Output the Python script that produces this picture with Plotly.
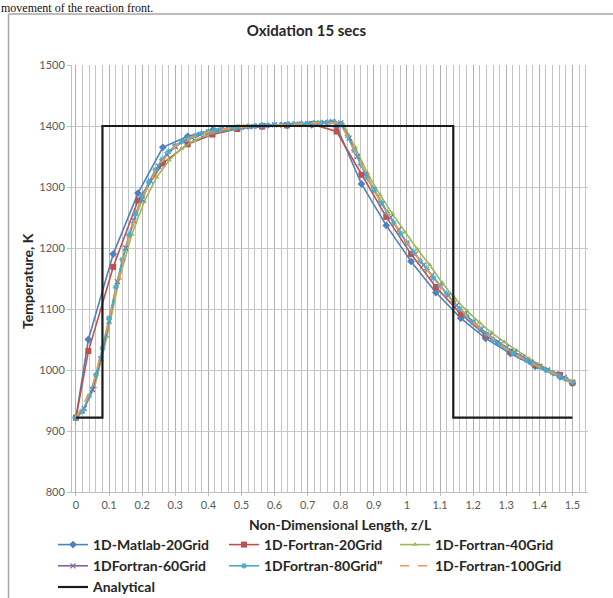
import plotly.graph_objects as go

# ---------------- data ----------------
x_grid20 = [0, 0.0375, 0.1125, 0.1875, 0.2625, 0.3375, 0.4125, 0.4875, 0.5625, 0.6375, 0.7125,
            0.7875, 0.8625, 0.9375, 1.0125, 1.0875, 1.1625, 1.2375, 1.3125, 1.3875, 1.4625, 1.5]
t_matlab20 = [922, 1050, 1190, 1290, 1365, 1383, 1393, 1397, 1400, 1401, 1402,
              1399, 1305, 1237, 1178, 1127, 1085, 1052, 1027, 1006, 989, 978]
t_fortran20 = [922, 1031, 1169, 1278, 1339, 1370, 1386, 1395, 1399, 1401, 1403,
               1391, 1320, 1251, 1190, 1136, 1092, 1057, 1030, 1008, 992, 979]

x_grid40 = [0, 0.01875, 0.05625, 0.09375, 0.13125, 0.16875, 0.20625, 0.24375, 0.28125, 0.31875,
            0.35625, 0.39375, 0.43125, 0.46875, 0.50625, 0.54375, 0.58125, 0.61875, 0.65625,
            0.69375, 0.73125, 0.76875, 0.80625, 0.84375, 0.88125, 0.91875, 0.95625, 0.99375,
            1.03125, 1.06875, 1.10625, 1.14375, 1.18125, 1.21875, 1.25625, 1.29375, 1.33125,
            1.36875, 1.40625, 1.44375, 1.48125, 1.5]
t_fortran40 = [922, 930, 972, 1055, 1150, 1222, 1276, 1316, 1344, 1363,
               1376, 1385, 1391, 1395, 1398, 1400, 1401, 1402, 1403,
               1404, 1405, 1407, 1404, 1365, 1322, 1287, 1256, 1226,
               1198, 1172, 1143, 1118, 1097, 1078, 1061, 1046, 1032,
               1019, 1007, 996, 986, 981]

x_grid60 = [0, 0.025, 0.05, 0.075, 0.1, 0.125, 0.15, 0.175, 0.2, 0.225, 0.25, 0.275, 0.3, 0.325,
            0.35, 0.375, 0.4, 0.425, 0.45, 0.475, 0.5, 0.525, 0.55, 0.575, 0.6, 0.625, 0.65,
            0.675, 0.7, 0.725, 0.75, 0.775, 0.8, 0.825, 0.85, 0.875, 0.9, 0.925, 0.95, 0.975,
            1.0, 1.025, 1.05, 1.075, 1.1, 1.125, 1.15, 1.175, 1.2, 1.225, 1.25, 1.275, 1.3,
            1.325, 1.35, 1.375, 1.4, 1.425, 1.45, 1.475, 1.5]
t_fortran60 = [922, 937, 968, 1018, 1080, 1145, 1200, 1245, 1280, 1310, 1334, 1353, 1366, 1375,
               1381, 1386, 1390, 1393, 1395, 1397, 1398, 1399, 1400, 1401, 1402, 1402, 1403,
               1403, 1404, 1405, 1406, 1407, 1405, 1380, 1350, 1321, 1296, 1272, 1250, 1230,
               1208, 1190, 1172, 1155, 1138, 1122, 1106, 1092, 1079, 1067, 1056, 1046, 1037,
               1029, 1021, 1013, 1006, 1000, 994, 988, 980]

x_grid80 = [0, 0.02, 0.04, 0.06, 0.08, 0.10, 0.12, 0.14, 0.16, 0.18, 0.20, 0.22, 0.24, 0.26,
            0.28, 0.30, 0.32, 0.34, 0.36, 0.38, 0.40, 0.42, 0.44, 0.46, 0.48, 0.50, 0.52, 0.54,
            0.56, 0.58, 0.60, 0.62, 0.64, 0.66, 0.68, 0.70, 0.72, 0.74, 0.76, 0.78, 0.80, 0.82,
            0.84, 0.86, 0.88, 0.90, 0.92, 0.94, 0.96, 0.98, 1.00, 1.02, 1.04, 1.06, 1.08, 1.10,
            1.12, 1.14, 1.16, 1.18, 1.20, 1.22, 1.24, 1.26, 1.28, 1.30, 1.32, 1.34, 1.36, 1.38,
            1.40, 1.42, 1.44, 1.46, 1.48, 1.50]
t_fortran80 = [922, 933, 957, 992, 1036, 1085, 1136, 1181, 1221, 1256, 1284, 1308, 1328, 1345,
               1358, 1368, 1375, 1380, 1384, 1388, 1391, 1393, 1395, 1396, 1397, 1398, 1399, 1400,
               1401, 1401, 1402, 1402, 1403, 1403, 1404, 1404, 1405, 1405, 1406, 1407, 1403, 1384,
               1360, 1337, 1315, 1295, 1276, 1258, 1241, 1224, 1208, 1193, 1179, 1165, 1151, 1138,
               1125, 1112, 1100, 1089, 1078, 1068, 1059, 1050, 1042, 1035, 1028, 1022, 1016, 1010,
               1005, 1000, 995, 990, 985, 980]

x_grid100 = [0, 0.05, 0.10, 0.15, 0.20, 0.25, 0.30, 0.35, 0.40, 0.45, 0.50, 0.55, 0.60, 0.65,
             0.70, 0.75, 0.80, 0.85, 0.90, 0.95, 1.00, 1.05, 1.10, 1.15, 1.20, 1.25, 1.30, 1.35,
             1.40, 1.45, 1.50]
t_fortran100 = [922, 972, 1082, 1200, 1282, 1336, 1367, 1382, 1390, 1395, 1398, 1400, 1402, 1403,
                1404, 1406, 1404, 1349, 1296, 1250, 1209, 1172, 1138, 1106, 1078, 1055, 1035, 1019,
                1005, 993, 980]

x_analytical = [0, 0.08, 0.08, 1.14, 1.14, 1.5]
t_analytical = [922, 922, 1400, 1400, 922, 922]

x_tick_vals = [0, 0.1, 0.2, 0.3, 0.4, 0.5, 0.6, 0.7, 0.8, 0.9, 1.0, 1.1, 1.2, 1.3, 1.4, 1.5]
x_tick_text = ["0", "0.1", "0.2", "0.3", "0.4", "0.5", "0.6", "0.7", "0.8", "0.9", "1",
               "1.1", "1.2", "1.3", "1.4", "1.5"]
y_tick_vals = [800, 900, 1000, 1100, 1200, 1300, 1400, 1500]
y_tick_text = ["800", "900", "1000", "1100", "1200", "1300", "1400", "1500"]

names = ["1D-Matlab-20Grid", "1D-Fortran-20Grid", "1D-Fortran-40Grid",
         "1DFortran-60Grid", "1DFortran-80Grid\"", "1D-Fortran-100Grid", "Analytical"]

# ---------------- figure ----------------
W, H = 613, 598
L, R, T, B = 72, 25, 65, 106
pw, ph = W - L - R, H - T - B


def px(x):
    return (x - L) / pw


def py(y):
    return (H - B - y) / ph


FONT = "Lato, 'Open Sans', sans-serif"

fig = go.Figure()

fig.add_trace(go.Scatter(x=x_grid20, y=t_matlab20, name=names[0], mode="lines+markers",
                         line=dict(color="#4F81BD", width=1.6),
                         marker=dict(symbol="diamond", size=6, color="#4F81BD")))
fig.add_trace(go.Scatter(x=x_grid20, y=t_fortran20, name=names[1], mode="lines+markers",
                         line=dict(color="#C0504D", width=1.6),
                         marker=dict(symbol="square", size=6, color="#C0504D")))
fig.add_trace(go.Scatter(x=x_grid40, y=t_fortran40, name=names[2], mode="lines+markers",
                         line=dict(color="#9BBB59", width=1.6),
                         marker=dict(symbol="triangle-up", size=5, color="#9BBB59")))
fig.add_trace(go.Scatter(x=x_grid60, y=t_fortran60, name=names[3], mode="lines+markers",
                         line=dict(color="#8064A2", width=1.6),
                         marker=dict(symbol="x-thin-open", size=5,
                                     line=dict(color="#8064A2", width=1.2))))
fig.add_trace(go.Scatter(x=x_grid80, y=t_fortran80, name=names[4], mode="lines+markers",
                         line=dict(color="#4BACC6", width=1.6),
                         marker=dict(symbol="asterisk-open", size=5,
                                     line=dict(color="#4BACC6", width=1.2))))
fig.add_trace(go.Scatter(x=x_grid100, y=t_fortran100, name=names[5], mode="lines",
                         line=dict(color="#F79646", width=1.6, dash="dash")))
fig.add_trace(go.Scatter(x=x_analytical, y=t_analytical, name=names[6], mode="lines",
                         line=dict(color="#1a1a1a", width=2.2)))

fig.update_layout(
    width=W, height=H,
    margin=dict(l=L, r=R, t=T, b=B, pad=0, autoexpand=False),
    paper_bgcolor="white", plot_bgcolor="white",
    font=dict(family=FONT, color="#404040"),
    title=dict(text="Oxidation 15 secs", x=0.5, xanchor="center", y=1 - 31 / H,
               yanchor="middle", font=dict(family=FONT, size=15, color="#262626", weight="bold")),
    showlegend=True,
    legend=dict(orientation="h", x=px(53), y=py(529), xanchor="left", yanchor="top",
                entrywidth=126, entrywidthmode="pixels",
                font=dict(family=FONT, size=14, color="#262626", weight="bold"),
                bgcolor="rgba(0,0,0,0)", itemwidth=30),
)

fig.update_xaxes(range=[-0.012, 1.547], tickmode="array", tickvals=x_tick_vals,
                 ticktext=x_tick_text, showgrid=True, gridcolor="#b0b0b0", gridwidth=1,
                 minor=dict(dtick=0.02, tick0=0, showgrid=True, gridcolor="#c4c4c4", gridwidth=1),
                 zeroline=False, showline=True, linecolor="#bfbfbf", linewidth=1,
                 ticks="outside", ticklen=3, tickcolor="#bfbfbf",
                 tickfont=dict(family=FONT, size=11, color="#595959"))
fig.update_yaxes(range=[800, 1500], tickmode="array", tickvals=y_tick_vals,
                 ticktext=y_tick_text, showgrid=True, gridcolor="#c8c8c8", gridwidth=1,
                 zeroline=False, showline=True, linecolor="#bfbfbf", linewidth=1,
                 ticks="outside", ticklen=4, tickcolor="#bfbfbf",
                 tickfont=dict(family=FONT, size=11, color="#595959"))

# axis titles
fig.add_annotation(text="Temperature, K", xref="paper", yref="paper", x=px(27), y=py(281),
                   xanchor="center", yanchor="middle", textangle=-90, showarrow=False,
                   font=dict(family=FONT, size=14, color="#262626", weight="bold"))
fig.add_annotation(text="Non-Dimensional Length, z/L", xref="paper", yref="paper",
                   x=px(340), y=py(524), xanchor="center", yanchor="middle", showarrow=False,
                   font=dict(family=FONT, size=14, color="#262626", weight="bold"))

# document text above the chart frame
fig.add_annotation(text="movement of the reaction front.", xref="paper", yref="paper",
                   x=px(0), y=py(0), xanchor="left", yanchor="top", showarrow=False,
                   borderpad=0,
                   font=dict(family="Liberation Serif, serif", size=12, color="#111111"))

# chart frame: only its left and top edges are inside the crop
fig.add_shape(type="line", xref="paper", yref="paper", x0=px(8.5), x1=px(8.5),
              y0=py(640), y1=py(14), line=dict(color="#a6a6a6", width=1.5), layer="below")
fig.add_shape(type="line", xref="paper", yref="paper", x0=px(8.5), x1=px(640),
              y0=py(14), y1=py(14), line=dict(color="#a6a6a6", width=1.5), layer="below")

# page without body margin so the figure starts at the window's top-left corner
fig.write_html("out.html", config={"displayModeBar": False},
               post_script="document.body.style.margin='0';document.body.style.overflow='hidden';")
